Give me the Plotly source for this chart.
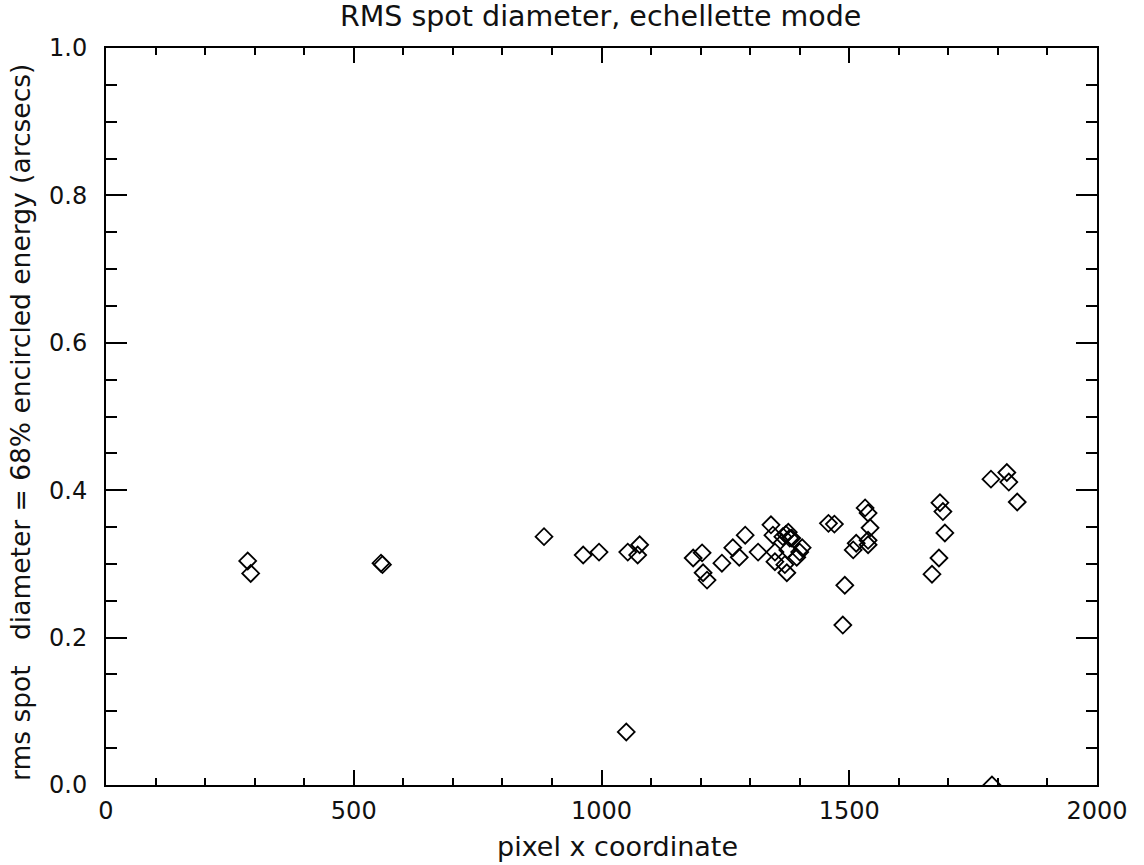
import plotly.graph_objects as go

# pixel x coordinate
x_pix = [286, 292, 555, 558, 884, 963, 995, 1053, 1073, 1077, 1050,
         1185, 1203, 1205, 1213, 1243, 1265, 1278, 1290, 1316,
         1342, 1346, 1350, 1350, 1366, 1372, 1377, 1380, 1384, 1370, 1374, 1376, 1394, 1405, 1400,
         1458, 1470,
         1532, 1538, 1542, 1514, 1508, 1538, 1538, 1491, 1487,
         1667, 1681, 1683, 1689, 1693,
         1786, 1818, 1822, 1839, 1788]
# rms spot diameter (arcsecs)
rms_diam = [0.304, 0.287, 0.301, 0.299, 0.337, 0.312, 0.316, 0.316, 0.312, 0.326, 0.072,
            0.308, 0.315, 0.288, 0.278, 0.301, 0.322, 0.309, 0.339, 0.316,
            0.353, 0.339, 0.316, 0.303, 0.337, 0.340, 0.343, 0.335, 0.335, 0.299, 0.288, 0.319, 0.309, 0.322, 0.316,
            0.355, 0.354,
            0.376, 0.369, 0.349, 0.328, 0.319, 0.332, 0.326, 0.271, 0.217,
            0.286, 0.308, 0.383, 0.371, 0.342,
            0.415, 0.424, 0.411, 0.384, 0.0]

x_ticks = [0, 500, 1000, 1500, 2000]
y_ticks = [0.0, 0.2, 0.4, 0.6, 0.8, 1.0]
y_tick_labels = ["0.0", "0.2", "0.4", "0.6", "0.8", "1.0"]

FONT = "DejaVu Sans, Liberation Sans, Arial, sans-serif"
TXT = "#111"

fig = go.Figure()
fig.add_trace(go.Scatter(
    x=x_pix, y=rms_diam, mode="markers",
    marker=dict(symbol="diamond-open", size=13, color="black", line=dict(width=1.8, color="black")),
    showlegend=False,
))

fig.update_layout(
    width=1144, height=865,
    margin=dict(l=106, r=47, t=48, b=80),
    paper_bgcolor="white", plot_bgcolor="white",
    font=dict(family=FONT, color="black"),
    title=dict(text="RMS spot diameter, echellette mode", x=0.525, xanchor="center",
               y=0.9815, yanchor="middle", yref="container",
               font=dict(size=28.5, family=FONT, color=TXT)),
    annotations=[
        dict(text="pixel x coordinate", xref="paper", yref="paper",
             x=0.5166, y=-0.083, xanchor="center", yanchor="middle", showarrow=False,
             font=dict(size=27, family=FONT, color=TXT)),
        dict(text="rms spot   diameter = 68% encircled energy (arcsecs)", xref="paper", yref="paper",
             x=-0.0868, y=0.4925, xanchor="center", yanchor="middle", textangle=-90, showarrow=False,
             font=dict(size=26.5, family=FONT, color=TXT)),
    ],
)
fig.update_xaxes(
    range=[0, 2000], tickvals=x_ticks, ticktext=[str(v) for v in x_ticks],
    ticks="inside", ticklen=15, tickwidth=1.5, tickcolor="black",
    minor=dict(dtick=100, ticks="inside", ticklen=7, tickwidth=1.5, tickcolor="black"),
    showline=True, linewidth=2, linecolor="black", mirror="allticks",
    showgrid=False, zeroline=False,
    tickfont=dict(size=24, family=FONT, color=TXT), ticklabelstandoff=3,
)
fig.update_yaxes(
    range=[0, 1.0], tickvals=y_ticks, ticktext=y_tick_labels,
    ticks="inside", ticklen=21, tickwidth=1.5, tickcolor="black",
    minor=dict(dtick=0.05, ticks="inside", ticklen=11, tickwidth=1.5, tickcolor="black"),
    showline=True, linewidth=2, linecolor="black", mirror="allticks",
    showgrid=False, zeroline=False,
    tickfont=dict(size=24, family=FONT, color=TXT), ticklabelstandoff=12,
)

fig.write_html("out.html")
